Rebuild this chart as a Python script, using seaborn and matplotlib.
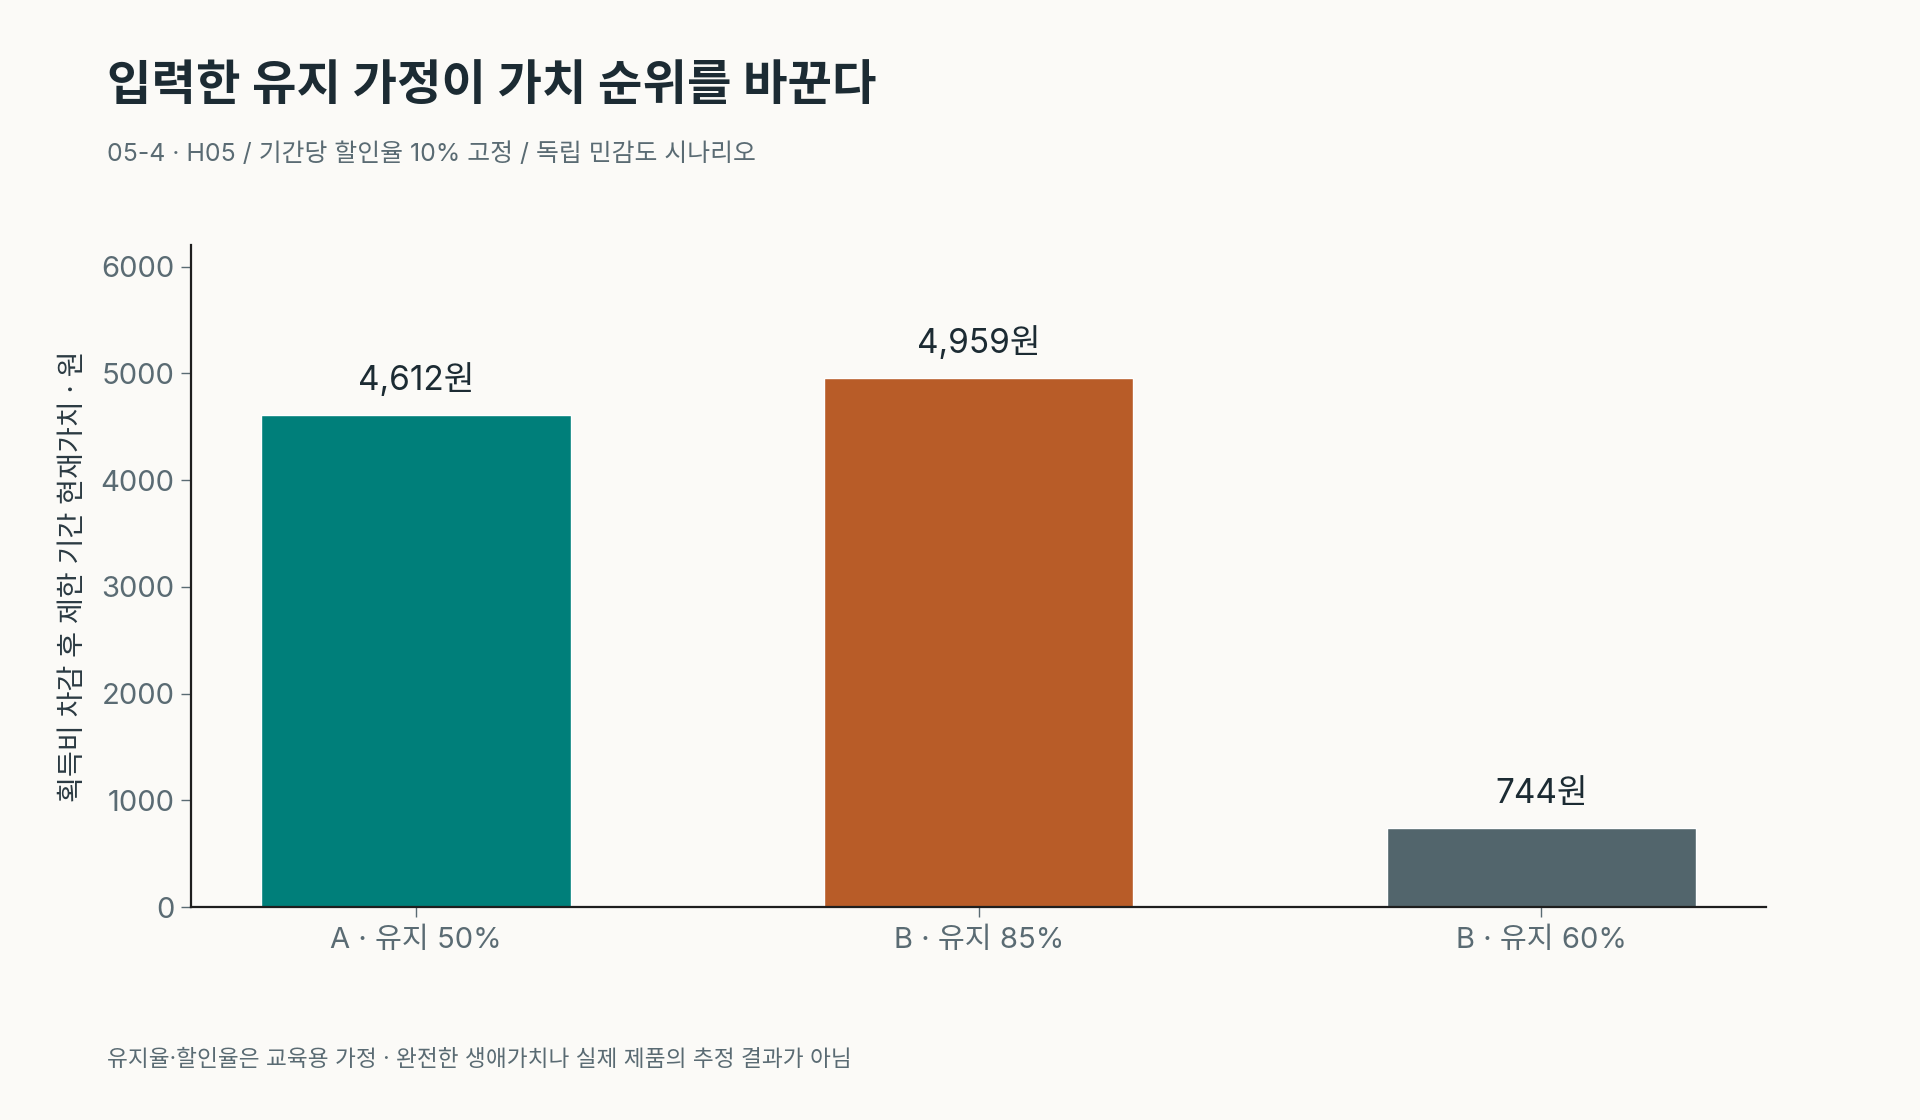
import pandas as pd
import matplotlib.pyplot as plt
import seaborn as sns

# 데이터
scenarios = ['A · 유지 50%', 'B · 유지 85%', 'B · 유지 60%']
values = [4612, 4959, 744]
bar_colors = ['#007F7A', '#B85C28', '#52656C']

df = pd.DataFrame({'scenario': scenarios, 'value': values})

sns.set_theme(style='white')
plt.rcParams['font.family'] = ['Inter', 'Noto Sans CJK KR', 'DejaVu Sans']

bg = '#FBFAF7'
dark = '#1C2B33'
grey = '#5A6B73'

fig = plt.figure(figsize=(19.2, 11.2), dpi=100, facecolor=bg)
ax = fig.add_axes([0.0995, 0.190, 0.8205, 0.591])
ax.set_facecolor(bg)

sns.barplot(data=df, x='scenario', y='value', hue='scenario', palette=bar_colors,
            legend=False, width=0.55, saturation=1, ax=ax)

ax.set_xlim(-0.4, 2.4)
ax.set_ylim(0, max(values) * 1.25)
ax.set_yticks([0, 1000, 2000, 3000, 4000, 5000, 6000])

# 막대 위 값 표시
for i, v in enumerate(values):
    ax.annotate(f'{v:,}원', xy=(i, v), xytext=(0, 13), textcoords='offset points',
                ha='center', va='bottom', fontsize=24, color=dark)

sns.despine(ax=ax)
for side in ['left', 'bottom']:
    ax.spines[side].set_color('#1E1E1E')
    ax.spines[side].set_linewidth(1.6)

ax.tick_params(axis='both', labelsize=21, labelcolor=grey, color=grey,
               length=7, width=1, pad=5)
ax.tick_params(axis='x', pad=7, bottom=True)
ax.tick_params(axis='y', left=True)
ax.set_xlabel('')
ax.set_ylabel('획득비 차감 후 제한 기간 현재가치 · 원', fontsize=20.3, color='#2B3A42')
ax.yaxis.set_label_coords(-0.066, 0.5)

fig.text(0.0555, 0.922, '입력한 유지 가정이 가치 순위를 바꾼다', fontsize=34.8,
         fontweight='bold', color=dark, va='center', ha='left')
fig.text(0.0555, 0.862, '05-4 · H05 / 기간당 할인율 10% 고정 / 독립 민감도 시나리오',
         fontsize=17.9, color=grey, va='center', ha='left')
fig.text(0.0555, 0.0535, '유지율·할인율은 교육용 가정 · 완전한 생애가치나 실제 제품의 추정 결과가 아님',
         fontsize=16.3, color=grey, va='center', ha='left')

fig.savefig('out.png', dpi=100, facecolor=bg)
